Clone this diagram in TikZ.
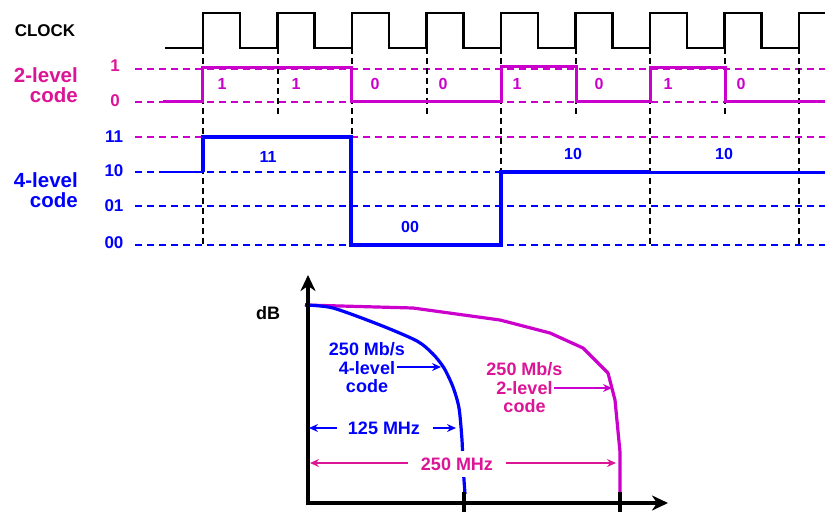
\documentclass[tikz,border=0pt]{standalone}
\usepackage{fontspec}
\setmainfont{Liberation Sans}
\usetikzlibrary{arrows.meta}
\definecolor{sigblue}{RGB}{0,0,255}
\definecolor{mag}{RGB}{204,0,204}
\definecolor{pinkt}{RGB}{220,20,150}
\begin{document}
\begin{tikzpicture}[x=1pt,y=-1pt,
  txtA/.style={font=\fontsize{17}{20}\selectfont\bfseries, inner sep=0pt},
  txtB/.style={font=\fontsize{20.5}{20}\selectfont\bfseries, inner sep=0pt, align=right},
  txtC/.style={font=\fontsize{16}{18}\selectfont\bfseries, inner sep=0pt},
  txtD/.style={font=\fontsize{18}{18.5}\selectfont\bfseries, inner sep=0pt, align=center},
  clk/.style={line width=2.6pt, black, line join=miter},
  vd/.style={line width=2pt, black, dash pattern=on 6pt off 4pt},
  hd/.style={line width=2pt, dash pattern=on 7pt off 5pt},
  sig2/.style={line width=3pt, mag, line join=miter},
  sig4/.style={line width=4pt, sigblue, line join=miter},
  axis/.style={line width=4pt, black, -{Stealth[length=16pt,width=15pt,inset=5pt]}},
  tick/.style={line width=4.5pt, black},
  ann/.style={line width=1.8pt, -{Stealth[length=9pt,width=8pt,inset=3pt]}},
  curve/.style={line width=3.2pt, line join=round}
]
\useasboundingbox (0,0) rectangle (825,512);

% ---------- grid lines ----------
\foreach \yy in {69,102,137}
  \draw[hd, mag] (135,\yy) -- (825,\yy);
\foreach \yy in {172,206,245}
  \draw[hd, sigblue] (135,\yy) -- (825,\yy);
\foreach \xx in {203,352,501,650,799}
  \draw[vd] (\xx,48) -- (\xx,245);
\foreach \xx in {277.5,426.5,575.5,724.5}
  \draw[vd] (\xx,48) -- (\xx,116);

% ---------- clock ----------
\draw[clk] (165,48) -- (203,48) |- (240,13) |- (277.5,48) |- (314.5,13) |- (352,48)
  |- (389,13) |- (426.5,48) |- (463.5,13) |- (501,48) |- (538,13) |- (575.5,48)
  |- (612.5,13) |- (650,48) |- (687,13) |- (724.5,48) |- (761.5,13) |- (799,48) |- (825,13);

% ---------- 2-level signal ----------
\draw[sig2] (163,101) -- (202,101) |- (351,67) |- (501,101) |- (576,66) |- (650,101)
  |- (725,67) |- (825,101);

% ---------- 4-level signal ----------
\draw[sig4, line width=2.5pt] (163,172) -- (203,172);
\draw[sig4] (203,172) |- (351,137) |- (501,245) |- (650,172);
\draw[sig4, line width=3pt] (648,172) -- (825,172);

% ---------- left labels ----------
\node[txtA] (clock) at (45,31) {CLOCK};
\node[txtB, text=pinkt, anchor=east] (two) at (78,85) {2-level\\code};
\node[txtB, text=sigblue, anchor=east] (four) at (78,190) {4-level\\code};
\node[txtA, text=pinkt] (l1) at (115,66) {1};
\node[txtA, text=pinkt] (l0) at (115,101) {0};
\node[txtA, text=sigblue] (l11) at (114,137) {11};
\node[txtA, text=sigblue] (l10) at (114,171) {10};
\node[txtA, text=sigblue] (l01) at (114,206) {01};
\node[txtA, text=sigblue] (l00) at (114,243) {00};

% ---------- bit labels ----------
\node[txtC, text=mag] (b1) at (222,84) {1};
\node[txtC, text=mag] (b2) at (296,84) {1};
\node[txtC, text=mag] (b3) at (375,84) {0};
\node[txtC, text=mag] (b4) at (443,84) {0};
\node[txtC, text=mag] (b5) at (517,84) {1};
\node[txtC, text=mag] (b6) at (599,84) {0};
\node[txtC, text=mag] (b7) at (668,84) {1};
\node[txtC, text=mag] (b8) at (741,84) {0};
\node[txtC, text=sigblue] (s1) at (268,157) {11};
\node[txtC, text=sigblue] (s2) at (410,227) {00};
\node[txtC, text=sigblue] (s3) at (573,154) {10};
\node[txtC, text=sigblue] (s4) at (724,154) {10};

% ---------- spectrum chart ----------
\coordinate (O) at (308,503);
\draw[curve, mag] (305,305) -- (413,308) -- (500,320) -- (550,333) -- (583,348)
  -- (608,373) -- (615,400) -- (620,452) -- (620,494);
\draw[curve, sigblue] plot[smooth, tension=0.45] coordinates {(305,305) (333,308) (380,325)
  (417,341) (433,354) (444,368) (453,387) (459,408) (462,440) (463,465) (465,494)};
\draw[tick] (464,492) -- (464,512);
\draw[tick] (620,492) -- (620,512);
\draw[axis] ([yshift=-2pt]O) -- (308,275);
\draw[axis] ([xshift=-2pt]O) -- (668,503);
\node[txtD] (db) at (268,313) {dB};

\node[txtD, text=sigblue] (t4) at (367,368) {250 Mb/s\\4-level\\code};
\coordinate (c4) at (441,367);
\draw[ann, sigblue] (397,367) -- (c4);
\node[txtD, text=pinkt] (t2) at (524.5,388) {250 Mb/s\\2-level\\code};
\coordinate (c2) at (612,388);
\draw[ann, mag] (554,388) -- (c2);

\node[txtD, text=sigblue] (f125) at (384,428) {125 MHz};
\coordinate (a1) at (309,428);
\coordinate (a2) at (456,428);
\draw[ann, sigblue] ([xshift=-47pt]f125.center) -- (a1);
\draw[ann, sigblue] ([xshift=49pt]f125.center) -- (a2);

\node[txtD, text=pinkt, fill=white, inner xsep=2pt, inner ysep=7pt] (f250) at (457,464) {250 MHz};
\coordinate (a3) at (310,463);
\coordinate (a4) at (616,463);
\draw[ann, pinkt] (408,463) -- (a3);
\draw[ann, pinkt] (506,463) -- (a4);
\end{tikzpicture}
\end{document}
